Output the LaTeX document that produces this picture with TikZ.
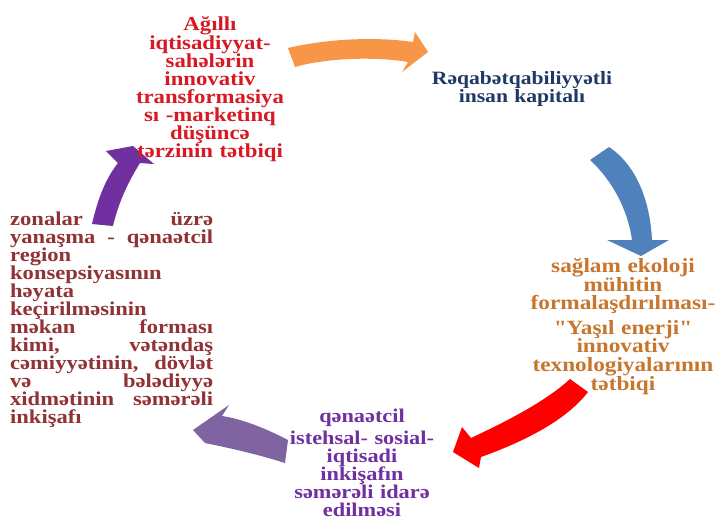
\documentclass[tikz,border=0pt]{standalone}
\usepackage{fontspec}
\newfontfamily\azfont{Liberation Serif}[FakeStretch=1.15]
\lineskiplimit=-100pt
\definecolor{redT}{RGB}{215,25,35}
\definecolor{navyT}{RGB}{31,56,100}
\definecolor{brownT}{RGB}{200,118,45}
\definecolor{purT}{RGB}{112,48,160}
\definecolor{maroonT}{RGB}{145,50,52}
\definecolor{orangeA}{RGB}{247,150,70}
\definecolor{blueA}{RGB}{79,129,189}
\definecolor{redA}{RGB}{255,0,0}
\definecolor{lavA}{RGB}{128,100,162}
\definecolor{purA}{RGB}{112,48,160}
\newcommand\jfil{\hskip 0pt plus 1fill\relax}
\begin{document}
\begin{tikzpicture}[x=1pt,y=-1pt,
  txt/.style={inner sep=0pt, anchor=base, align=center},
  fsize/.style 2 args={font=\azfont\fontsize{#1}{#2}\selectfont\bfseries}]
\useasboundingbox (0,0) rectangle (718,523);
\fill[white] (0,0) rectangle (718,523);
% block arrows
\fill[orangeA] (288,48) .. controls (330,38) and (380,37) .. (413,42) -- (415,32) -- (428,52) -- (402,72) -- (408,62) .. controls (380,57) and (330,57) .. (295,67) -- cycle;
\fill[blueA] (590,160) .. controls (612,180) and (628,210) .. (632,240) -- (607,240) -- (641,256) -- (669,240) -- (652,240) .. controls (650,200) and (636,165) .. (609,147) -- cycle;
\fill[redA] (570,379) .. controls (545,402) and (505,422) .. (471,438) -- (462,427) -- (453,452) -- (479,468) -- (481,457) .. controls (520,443) and (565,422) .. (588,392) -- cycle;
\fill[lavA] (288,440) .. controls (265,428) and (242,419) .. (222,416) -- (229,405) -- (193,430) -- (205,443) .. controls (230,448) and (260,455) .. (285,463) -- cycle;
\fill[purA] (92,224) .. controls (98,198) and (106,178) .. (118,163) -- (106,151) -- (133,146) -- (154,164) -- (140,163) .. controls (128,182) and (118,204) .. (113,226) -- cycle;
% texts
\node[txt, fsize={19.8}{18.1}, text=redT, text width=180pt] (smart) at (210,30)
 {Ağıllı\\ iqtisadiyyat-\\ sahələrin\\ innovativ\\ transformasiya\\ sı -marketinq\\ düşüncə\\ tərzinin tətbiqi};
\node[txt, fsize={18.8}{18.5}, text=navyT, text width=220pt] (human) at (522,84)
 {Rəqabətqabiliyyətli\\ insan kapitalı};
\node[txt, fsize={20.2}{18.4}, text=brownT, text width=200pt] (eco) at (623,272)
 {sağlam ekoloji\\ mühitin\\ formalaşdırılması-\\[6pt] "Yaşıl enerji"\\ innovativ\\ texnologiyalarının\\ tətbiqi};
\node[txt, fsize={19.4}{17.8}, text=purT, text width=190pt] (prod) at (362,422)
 {qənaətcil\\[5pt] istehsal- sosial-\\ iqtisadi\\ inkişafın\\ səmərəli idarə\\ edilməsi};
\node[inner sep=0pt, anchor=base west, align=left, text width=203pt, fsize={19.6}{18}, text=maroonT] (zone) at (10,225)
 {zonalar\jfil üzrə\\
  yanaşma\jfil-\jfil qənaətcil\\
  region\\
  konsepsiyasının\\
  həyata\\
  keçirilməsinin\\
  məkan\jfil forması\\
  kimi,\jfil vətəndaş\\
  cəmiyyətinin,\jfil dövlət\\
  və\jfil bələdiyyə\\
  xidmətinin\jfil səmərəli\\
  inkişafı};
\end{tikzpicture}
\end{document}
